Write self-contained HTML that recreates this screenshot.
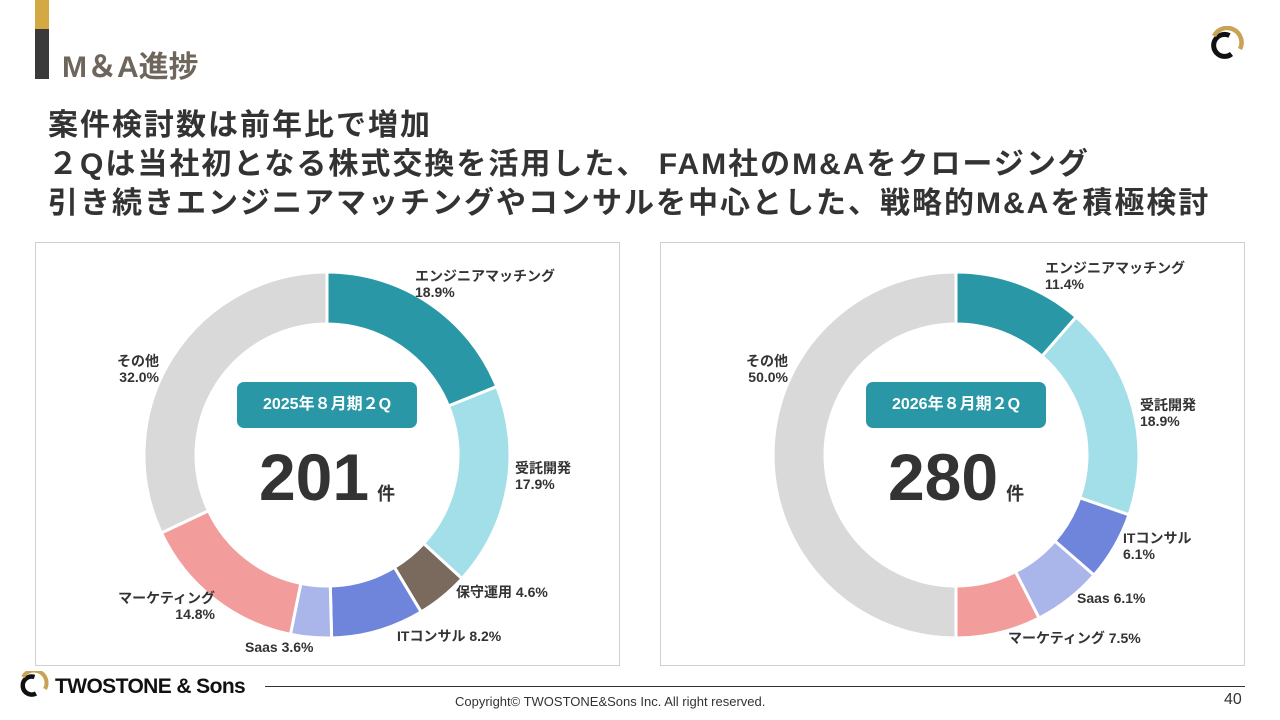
<!DOCTYPE html>
<html><head><meta charset="utf-8">
<style>
body{margin:0;width:1280px;height:720px;background:#fff;position:relative;overflow:hidden;font-family:"Liberation Sans","Noto Sans CJK JP",sans-serif;}
.abs{position:absolute;}
.head{font-weight:bold;color:#333;font-size:30px;left:48px;white-space:nowrap;letter-spacing:2px}
.panel{position:absolute;top:242px;width:585px;height:424px;border:1px solid #d0d0d0;box-sizing:border-box}
.lbl{position:absolute;font-size:14px;font-weight:bold;color:#333;line-height:16px;white-space:nowrap}
</style></head><body>
<div class="abs" style="left:35px;top:0;width:14px;height:29px;background:#d4a843"></div>
<div class="abs" style="left:35px;top:29px;width:14px;height:50px;background:#3a3a3a"></div>
<div class="abs" style="left:62px;top:42px;font-size:30px;font-weight:bold;color:#6e655c">M＆A進捗</div>
<svg class="abs" style="left:1204px;top:26px" width="44" height="40" viewBox="0 0 44 40">
<path d="M25.5 9.5 A11 11 0 1 0 27.5 28" fill="none" stroke="#111" stroke-width="5"/>
<path d="M10 10 A14 14 0 0 1 36 23" fill="none" stroke="#c9a354" stroke-width="4.5"/>
</svg>
<div class="abs head" style="top:100px">案件検討数は前年比で増加</div>
<div class="abs head" style="top:139px">２Qは当社初となる株式交換を活用した、 FAM社のM&amp;Aをクロージング</div>
<div class="abs head" style="top:178px">引き続きエンジニアマッチングやコンサルを中心とした、戦略的M&amp;Aを積極検討</div>

<div class="panel" style="left:35px"></div>
<div class="panel" style="left:660px"></div>
<svg id="charts" class="abs" style="left:0;top:0" width="1280" height="720"></svg>
<div id="labels"></div>

<svg class="abs" style="left:16px;top:671px" width="36" height="30" viewBox="0 0 36 30">
<path d="M18.5 6 A9 9 0 1 0 20 22.5" fill="none" stroke="#111" stroke-width="4.5"/>
<path d="M7 6 A12 12 0 0 1 29 18" fill="none" stroke="#c9a354" stroke-width="4"/>
</svg>
<div class="abs" style="left:55px;top:675px;font-size:21px;font-weight:bold;color:#111;letter-spacing:-0.6px">TWOSTONE &amp; Sons</div>
<div class="abs" style="left:265px;top:686px;width:980px;height:1px;background:#333"></div>
<div class="abs" style="left:455px;top:694px;font-size:13px;color:#333">Copyright© TWOSTONE&amp;Sons Inc. All right reserved.</div>
<div class="abs" style="left:1224px;top:691px;font-size:16px;color:#333">40</div>

<script>
const cats1=["エンジニアマッチング","受託開発","保守運用","ITコンサル","Saas","マーケティング","その他"];
const vals1=[18.9,17.9,4.6,8.2,3.6,14.8,32.0];
const cats2=["エンジニアマッチング","受託開発","ITコンサル","Saas","マーケティング","その他"];
const vals2=[11.4,18.9,6.1,6.1,7.5,50.0];
const periods=["2025年８月期２Q","2026年８月期２Q"];
const totals=[201,280];
const colorMap={"エンジニアマッチング":"#2a97a6","受託開発":"#a3dfe8","保守運用":"#7a6a5e","ITコンサル":"#6f85db","Saas":"#aab5e9","マーケティング":"#f29c9c","その他":"#d9d9d9"};
// label layout (not data): [x, y, mode] mode: 'L' two-line left, 'R' two-line right-aligned at x, 'I' inline
const labelLayout=[
 {"エンジニアマッチング":[415,268,'L'],"受託開発":[515,460,'L'],"保守運用":[456,584,'I'],"ITコンサル":[397,628,'I'],"Saas":[245,639,'I'],"マーケティング":[215,590,'R'],"その他":[159,353,'R']},
 {"エンジニアマッチング":[1045,260,'L'],"受託開発":[1140,397,'L'],"ITコンサル":[1123,530,'L'],"Saas":[1077,590,'I'],"マーケティング":[1008,630,'I'],"その他":[788,353,'R']}
];
const NS="http://www.w3.org/2000/svg";
const svg=document.getElementById('charts');
const lab=document.getElementById('labels');
function pt(cx,cy,r,a){return [cx+r*Math.sin(a),cy-r*Math.cos(a)];}
function draw(cats,vals,cx,cy,pi){
  const R=183,r=131,total=vals.reduce((a,b)=>a+b,0);
  let acc=0;
  cats.forEach((c,i)=>{
    const a0=acc/total*2*Math.PI;acc+=vals[i];const a1=acc/total*2*Math.PI;
    const [x0,y0]=pt(cx,cy,R,a0),[x1,y1]=pt(cx,cy,R,a1),[x2,y2]=pt(cx,cy,r,a1),[x3,y3]=pt(cx,cy,r,a0);
    const lg=(a1-a0)>Math.PI?1:0;
    const p=document.createElementNS(NS,'path');
    p.setAttribute('d',`M${x0},${y0}A${R},${R} 0 ${lg} 1 ${x1},${y1}L${x2},${y2}A${r},${r} 0 ${lg} 0 ${x3},${y3}Z`);
    p.setAttribute('fill',colorMap[c]);p.setAttribute('stroke','#fff');p.setAttribute('stroke-width','3');
    
    
    svg.appendChild(p);
    const d=document.createElement('div');d.className='lbl';
    
    
    const L=labelLayout[pi][c];
    const txt=vals[i].toFixed(1)+'%';
    if(L[2]==='I'){d.innerHTML=c+' '+txt;d.style.left=L[0]+'px';}
    else if(L[2]==='L'){d.innerHTML=c+'<br>'+txt;d.style.left=L[0]+'px';}
    else{d.innerHTML=c+'<br>'+txt;d.style.right=(1280-L[0])+'px';d.style.textAlign='right';}
    d.style.top=L[1]+'px';
    lab.appendChild(d);
  });
  const b=document.createElement('div');
  
  
  b.style.cssText=`position:absolute;left:${cx-90}px;top:${cy-73}px;width:180px;height:46px;background:#2a97a6;border-radius:7px;color:#fff;font-weight:bold;font-size:16px;line-height:46px;text-align:center`;
  b.textContent=periods[pi];lab.appendChild(b);
  const n=document.createElement('div');
  
  
  n.style.cssText=`position:absolute;left:${cx-100}px;top:${cy-8}px;width:200px;text-align:center;color:#333;font-weight:bold;white-space:nowrap`;
  n.innerHTML=`<span style="font-size:66px;line-height:60px">${totals[pi]}</span><span style="font-size:18px;margin-left:8px">件</span>`;
  lab.appendChild(n);
}
draw(cats1,vals1,327,455,0);
draw(cats2,vals2,956,455,1);
</script>
</body></html>
